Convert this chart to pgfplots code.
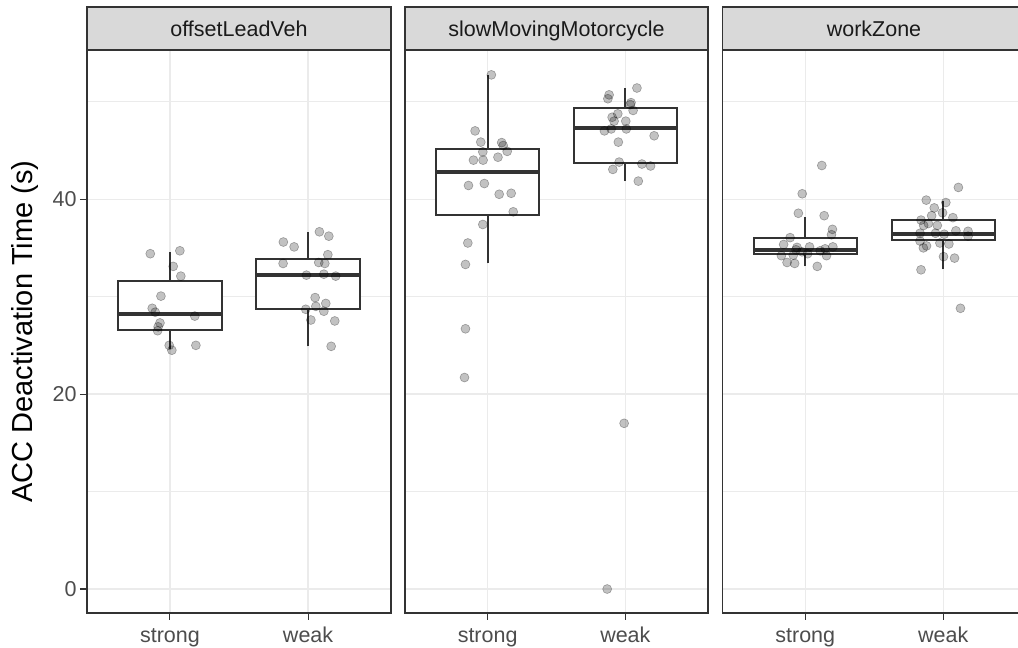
\documentclass[border=0pt]{standalone}
\usepackage{pgfplots}
\pgfplotsset{compat=1.18}
\usepackage{fontspec}
\setmainfont{Liberation Sans}
\definecolor{gTwenty}{HTML}{333333}
\definecolor{gThirty}{HTML}{4D4D4D}
\definecolor{gTen}{HTML}{1A1A1A}
\definecolor{gStrip}{HTML}{D9D9D9}
\definecolor{gGrid}{HTML}{EBEBEB}
\pgfplotsset{
  panel/.style={
    scale only axis, height=563pt,
    xmin=0.4, xmax=2.6, ymin=-2.46, ymax=55.3,
    xtick={1,2}, xticklabels={strong,weak},
    ytick={0,20,40}, minor ytick={10,30,50},
    grid=both,
    major grid style={draw=gGrid, line width=1.2pt},
    minor grid style={draw=gGrid, line width=0.6pt},
    axis line style={draw=gTwenty, line width=1.1pt},
    tick style={draw=gTwenty, line width=1.1pt},
    tick align=outside, tick pos=left,
    major tick length=7pt, minor tick length=0pt,
    /pgf/number format/assume math mode=true,
    ticklabel style={font=\fontsize{21.5}{24}\selectfont, text=gThirty},
    xticklabel style={text height=15.5pt, text depth=4.5pt, yshift=-3.3pt},
    clip=true,
  },
  pts/.style={only marks, mark=*, mark size=4.5pt,
    mark options={fill=black, fill opacity=0.24, draw=black, draw opacity=0.3, line width=0.6pt}},
}
% box: left, centre, right, lower whisker, lower quartile, median, upper quartile, upper whisker
\newcommand{\bbox}[8]{%
  \addplot[gTwenty, line width=2pt] coordinates {(#2,#4)(#2,#5)};
  \addplot[gTwenty, line width=2pt] coordinates {(#2,#7)(#2,#8)};
  \addplot[draw=gTwenty, fill=white, line width=2pt] coordinates {(#1,#5)(#3,#5)(#3,#7)(#1,#7)} -- cycle;
  \addplot[gTwenty, line width=4pt] coordinates {(#1,#6)(#3,#6)};
}
\begin{document}
\begin{tikzpicture}
\useasboundingbox (0,0) rectangle (1018pt,648pt);
\clip (0,0) rectangle (1018pt,648pt);
\fill[white] (0,0) rectangle (1018pt,648pt);
% ---------------- panel 1
\begin{axis}[panel, width=304pt, at={(87pt,35pt)}, anchor=south west]
\bbox{0.625}{1}{1.375}{24.6}{26.6}{28.2}{31.6}{34.6}
\bbox{1.625}{2}{2.375}{24.9}{28.75}{32.2}{33.9}{36.6}
\addplot[pts] coordinates {
(0.858,34.4)(1.072,34.7)(1.024,33.1)(1.079,32.1)(0.935,30.05)(0.872,28.8)(0.894,28.4)
(1.180,28.0)(0.928,27.3)(0.915,26.9)(0.911,26.5)(0.995,25.0)(1.014,24.5)(1.188,25.0)};
\addplot[pts] coordinates {
(2.082,36.65)(2.150,36.2)(1.821,35.6)(1.899,35.1)(2.143,34.3)(2.077,33.5)(2.121,33.4)
(1.819,33.4)(1.988,32.2)(2.114,32.3)(2.200,32.1)(2.051,29.9)(2.128,29.3)(2.056,29.0)
(1.983,28.7)(2.114,28.5)(2.020,27.6)(2.193,27.5)(2.167,24.9)};
\end{axis}
% ---------------- panel 2
\begin{axis}[panel, width=303pt, at={(405pt,35pt)}, anchor=south west,
  yticklabels={}, every major y tick/.append style={draw=none}]
\bbox{0.625}{1}{1.375}{33.4}{38.4}{42.8}{45.1}{52.7}
\bbox{1.625}{2}{2.375}{41.85}{43.7}{47.25}{49.3}{51.35}
\addplot[pts] coordinates {
(1.027,52.75)(0.909,47.0)(0.950,45.85)(1.102,45.8)(1.113,45.5)(1.142,44.9)(0.965,44.85)
(0.897,44.0)(0.967,44.0)(1.075,44.3)(0.861,41.4)(0.976,41.6)(1.084,40.5)(1.171,40.6)
(1.186,38.7)(0.965,37.4)(0.856,35.5)(0.839,33.3)(0.839,26.7)(0.832,21.7)};
\addplot[pts] coordinates {
(2.084,51.4)(1.882,50.7)(1.873,50.3)(2.041,49.9)(2.056,49.1)(2.036,49.7)(1.945,48.75)
(1.904,48.4)(1.918,48.0)(2.003,48.0)(1.897,47.2)(1.848,47.0)(2.007,47.2)(2.209,46.5)
(1.949,45.85)(1.955,43.8)(1.909,43.05)(2.120,43.6)(2.183,43.4)(2.094,41.85)
(1.991,17.0)(1.868,0.0)};
\end{axis}
% ---------------- panel 3
\begin{axis}[panel, width=303.5pt, at={(722.5pt,35pt)}, anchor=south west,
  yticklabels={}, every major y tick/.append style={draw=none}]
\bbox{0.625}{1}{1.375}{33.1}{34.4}{34.8}{36.05}{38.2}
\bbox{1.625}{2}{2.375}{32.8}{35.8}{36.4}{37.85}{39.8}
\addplot[pts] coordinates {
(1.120,43.45)(0.978,40.55)(0.950,38.55)(1.137,38.3)(1.197,36.9)(1.190,36.35)(0.890,36.05)
(0.843,35.35)(0.940,35.05)(1.031,35.1)(1.200,35.1)(1.144,34.9)(0.933,34.8)(0.976,34.6)
(1.108,34.7)(1.017,34.4)(0.827,34.2)(0.913,34.25)(1.154,34.2)(0.868,33.5)(0.923,33.4)(1.087,33.1)};
\addplot[pts] coordinates {
(2.110,41.2)(1.877,39.9)(2.019,39.65)(1.935,39.1)(1.995,38.6)(1.916,38.3)(2.070,38.1)
(1.839,37.85)(1.858,37.3)(1.957,37.3)(1.892,37.5)(1.832,36.5)(1.944,36.5)(2.007,36.4)
(2.092,36.75)(2.180,36.7)(2.180,36.2)(1.832,35.7)(1.879,35.2)(1.856,35.0)(1.976,35.5)
(2.041,35.4)(2.002,34.1)(2.082,33.95)(1.839,32.75)(2.125,28.8)};
\end{axis}
% ---------------- strips
\foreach \xa/\xb in {87/391, 405/708, 722.5/1026}{
  \draw[draw=gTwenty, fill=gStrip, line width=1.1pt] (\xa pt,598pt) rectangle (\xb pt,641pt);
}
\node[anchor=base, font=\fontsize{21.5}{24}\selectfont, text=gTen] at (239pt,611pt) {offsetLeadVeh};
\node[anchor=base, font=\fontsize{21.5}{24}\selectfont, text=gTen] at (556.5pt,611pt) {slowMovingMotorcycle};
\node[anchor=base, font=\fontsize{21.5}{24}\selectfont, text=gTen] at (874pt,611pt) {workZone};
\node[rotate=90, font=\fontsize{29}{32}\selectfont, text=black] at (25pt,316.5pt) {ACC Deactivation Time (s)};
\end{tikzpicture}
\end{document}
